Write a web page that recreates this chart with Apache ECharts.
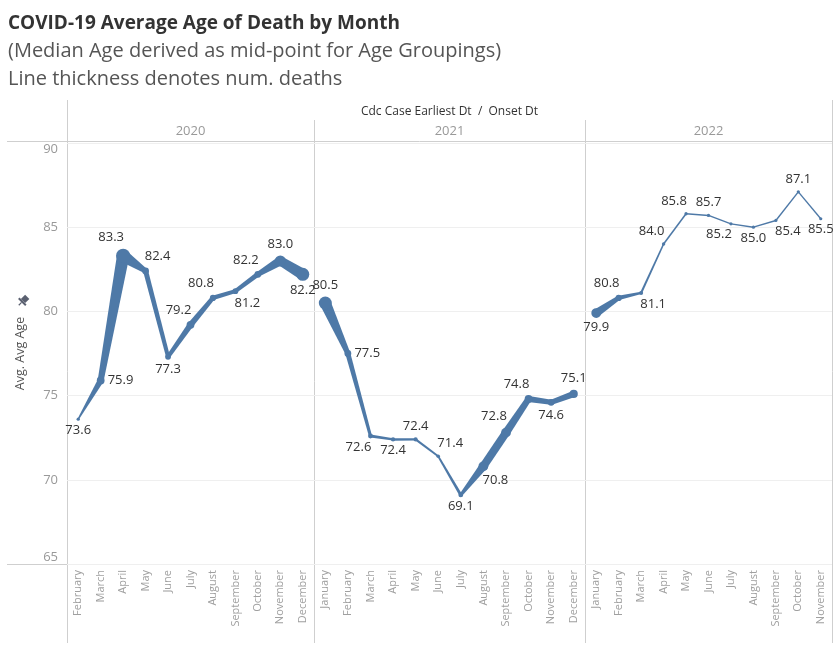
<!DOCTYPE html>
<html>
<head>
<meta charset="utf-8">
<script src="https://cdn.jsdelivr.net/npm/echarts@6/dist/echarts.min.js"></script>
<style>
  html, body { margin: 0; padding: 0; background: #fff; }
  #chart { width: 840px; height: 654px; }
</style>
</head>
<body>
<div id="chart"></div>
<script>
// ---------- data ----------
const years = ['2020', '2021', '2022'];

const months2020 = ['February','March','April','May','June','July','August','September','October','November','December'];
const months2021 = ['January','February','March','April','May','June','July','August','September','October','November','December'];
const months2022 = ['January','February','March','April','May','June','July','August','September','October','November'];

const avgAge2020 = [73.6, 75.9, 83.3, 82.4, 77.3, 79.2, 80.8, 81.2, 82.2, 83.0, 82.2];
const avgAge2021 = [80.5, 77.5, 72.6, 72.4, 72.4, 71.4, 69.1, 70.8, 72.8, 74.8, 74.6, 75.1];
const avgAge2022 = [79.9, 80.8, 81.1, 84.0, 85.8, 85.7, 85.2, 85.0, 85.4, 87.1, 85.5];

// number of deaths (thousands, estimated from line thickness)
const deaths2020 = [1.5, 24, 56, 19, 14, 24, 16, 14, 19, 40, 50];
const deaths2021 = [50, 19, 9, 6.5, 6, 3, 9, 34, 34, 24, 19, 26];
const deaths2022 = [34, 16, 5, 2, 1.5, 1.5, 1, 1, 1, 1, 0.8];

const yTicks = [65, 70, 75, 80, 85, 90];

// label placement (layout only)
const labelPlace2020 = ['B','R','TL','TR','B','TL','TL','BR','TL','T','B'];
const labelPlace2021 = ['T','R','BL','B','T','TR','B','BR','TL','TL','B','T'];
const labelPlace2022 = ['B','TL','BR','TL','TL','T','BL','B','BR','T','B'];

// ---------- chart ----------
const COLOR = '#4e79a7';
const FONT = 'Open Sans';
const panels = [
  { months: months2020, values: avgAge2020, deaths: deaths2020, place: labelPlace2020, left: 67,  width: 247 },
  { months: months2021, values: avgAge2021, deaths: deaths2021, place: labelPlace2021, left: 314, width: 271 },
  { months: months2022, values: avgAge2022, deaths: deaths2022, place: labelPlace2022, left: 585, width: 247 }
];
const GTOP = 143, GH = 421;

function widthOf(d) { return 1.2 + d / 5; }

function lineRender(p) {
  return function (params, api) {
    const i = params.dataIndex;
    const c = api.coord([i, p.values[i]]);
    const w = widthOf(p.deaths[i]);
    const children = [];
    if (i < p.values.length - 1) {
      const c2 = api.coord([i + 1, p.values[i + 1]]);
      const w2 = widthOf(p.deaths[i + 1]);
      const dx = c2[0] - c[0], dy = c2[1] - c[1], L = Math.hypot(dx, dy);
      const nx = -dy / L, ny = dx / L;
      children.push({
        type: 'polygon',
        shape: { points: [
          [c[0] + nx * w / 2, c[1] + ny * w / 2],
          [c2[0] + nx * w2 / 2, c2[1] + ny * w2 / 2],
          [c2[0] - nx * w2 / 2, c2[1] - ny * w2 / 2],
          [c[0] - nx * w / 2, c[1] - ny * w / 2]
        ] },
        style: { fill: COLOR }
      });
    }
    children.push({ type: 'circle', shape: { cx: c[0], cy: c[1], r: w / 2 + 0.9 }, style: { fill: COLOR } });
    return { type: 'group', children };
  };
}

function labelRender(p) {
  return function (params, api) {
    const i = params.dataIndex;
    const c = api.coord([i, p.values[i]]);
    const w = widthOf(p.deaths[i]);
    const pl = p.place[i];
    const off = 10 + w / 2;
    let x = c[0], y = c[1], align = 'center';
    if (pl.indexOf('T') >= 0) y -= off + 2;
    if (pl.indexOf('B') >= 0) y += off;
    if (pl === 'R') { x += 4 + w / 2; align = 'left'; }
    else if (pl.indexOf('L') >= 0) x -= 12;
    else if (pl.length === 2 && pl[1] === 'R') x += 12;
    return {
      type: 'text',
      x: x, y: y,
      style: { text: p.values[i].toFixed(1), align: align, verticalAlign: 'middle', fill: '#333', font: '13px "' + FONT + '"' }
    };
  };
}

const grid = [], xAxis = [], yAxis = [], series = [];
panels.forEach((p, k) => {
  grid.push({ left: p.left, top: GTOP, width: p.width, height: GH });
  xAxis.push({
    type: 'category', gridIndex: k, data: p.months,
    axisLine: { show: false }, axisTick: { show: false },
    axisLabel: { interval: 0, rotate: 90, color: '#a0a0a0', fontSize: 11, fontFamily: FONT, margin: 6 }
  });
  yAxis.push({
    type: 'value', gridIndex: k, min: yTicks[0], max: yTicks[yTicks.length - 1], interval: 5,
    axisLine: { show: false }, axisTick: { show: false },
    splitLine: { show: true, lineStyle: { color: '#efefef', width: 1 } },
    axisLabel: { show: k === 0, color: '#999', fontSize: 13, fontFamily: FONT, margin: 9,
                 verticalAlignMaxLabel: 'top', verticalAlignMinLabel: 'bottom' },
    name: k === 0 ? 'Avg. Avg Age' : '', nameLocation: 'middle', nameGap: 40, nameRotate: 90,
    nameTextStyle: { color: '#555', fontSize: 12.5, fontFamily: FONT, padding: [0, 0, 0, 0] }
  });
  const data = p.values.map((v, i) => [i, v, p.deaths[i]]);
  series.push({ type: 'custom', xAxisIndex: k, yAxisIndex: k, data: data, renderItem: lineRender(p), z: 2, silent: true });
  series.push({ type: 'custom', xAxisIndex: k, yAxisIndex: k, data: data, renderItem: labelRender(p), z: 5, silent: true });
});

const LINE = '#cfcfcf';
const graphic = [
  { type: 'line', shape: { x1: 7, y1: 141.5, x2: 832, y2: 141.5 }, style: { stroke: LINE, lineWidth: 1 } },
  { type: 'line', shape: { x1: 7, y1: 564.5, x2: 832, y2: 564.5 }, style: { stroke: LINE, lineWidth: 1 } },
  { type: 'line', shape: { x1: 67.5, y1: 100, x2: 67.5, y2: 643 }, style: { stroke: LINE, lineWidth: 1 } },
  { type: 'line', shape: { x1: 314.5, y1: 120, x2: 314.5, y2: 643 }, style: { stroke: LINE, lineWidth: 1 } },
  { type: 'line', shape: { x1: 585.5, y1: 120, x2: 585.5, y2: 643 }, style: { stroke: LINE, lineWidth: 1 } },
  { type: 'line', shape: { x1: 832.5, y1: 100, x2: 832.5, y2: 643 }, style: { stroke: LINE, lineWidth: 1 } },
  { type: 'text', x: 449.5, y: 112, style: { text: 'Cdc Case Earliest Dt  /  Onset Dt', align: 'center', verticalAlign: 'middle', fill: '#333', font: '12px "' + FONT + '"' } },
  { type: 'text', x: 190.5, y: 131, style: { text: years[0], align: 'center', verticalAlign: 'middle', fill: '#999', font: '13px "' + FONT + '"' } },
  { type: 'text', x: 449.5, y: 131, style: { text: years[1], align: 'center', verticalAlign: 'middle', fill: '#999', font: '13px "' + FONT + '"' } },
  { type: 'text', x: 708.5, y: 131, style: { text: years[2], align: 'center', verticalAlign: 'middle', fill: '#999', font: '13px "' + FONT + '"' } },
  // pin icon
  { type: 'group', x: 23, y: 301, rotation: -Math.PI / 4, children: [
      { type: 'rect', shape: { x: -3, y: -6, width: 6, height: 6 }, style: { fill: '#5a6070' } },
      { type: 'rect', shape: { x: -5, y: 0, width: 10, height: 2 }, style: { fill: '#5a6070' } },
      { type: 'line', shape: { x1: 0, y1: 2, x2: 0, y2: 6 }, style: { stroke: '#5a6070', lineWidth: 1.2 } }
  ] }
];

const chart = echarts.init(document.getElementById('chart'), null, { renderer: 'canvas' });
chart.setOption({
  animation: false,
  backgroundColor: '#fff',
  title: [
    { text: 'COVID-19 Average Age of Death by Month', left: 8, top: 14, padding: 0,
      textStyle: { fontSize: 19, fontWeight: 'bold', color: '#333', fontFamily: FONT } },
    { text: '(Median Age derived as mid-point for Age Groupings)', left: 8, top: 41, padding: 0,
      textStyle: { fontSize: 20, fontWeight: 'normal', color: '#555', fontFamily: FONT } },
    { text: 'Line thickness denotes num. deaths', left: 8, top: 69, padding: 0,
      textStyle: { fontSize: 20, fontWeight: 'normal', color: '#555', fontFamily: FONT } }
  ],
  grid, xAxis, yAxis, series, graphic
});
</script>
</body>
</html>
